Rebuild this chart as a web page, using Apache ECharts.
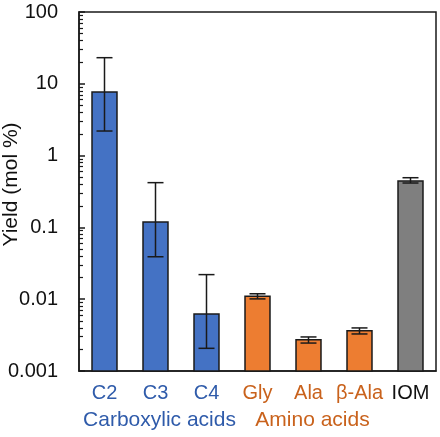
<!DOCTYPE html>
<html>
<head>
<meta charset="utf-8">
<script src="https://cdn.jsdelivr.net/npm/echarts@6/dist/echarts.min.js"></script>
<style>html,body{margin:0;padding:0;background:#fff;}#c{width:440px;height:437px;}</style>
</head>
<body>
<div id="c"></div>
<script>
const categories = ['C2', 'C3', 'C4', 'Gly', 'Ala', 'β-Ala', 'IOM'];
const groups = ['Carboxylic acids', 'Carboxylic acids', 'Carboxylic acids', 'Amino acids', 'Amino acids', 'Amino acids', 'IOM'];
const yields = [7.7, 0.119, 0.0062, 0.011, 0.00273, 0.00365, 0.443];
const errLow = [2.2, 0.039, 0.00207, 0.0101, 0.00245, 0.00328, 0.415];
const errHigh = [23.1, 0.42, 0.022, 0.0119, 0.00298, 0.00398, 0.492];
const yTicks = [0.001, 0.01, 0.1, 1, 10, 100];
const groupLabels = ['Carboxylic acids', 'Amino acids'];

const barColors = {'Carboxylic acids': '#4472C4', 'Amino acids': '#ED7D31', 'IOM': '#7F7F7F'};
const textColors = {'Carboxylic acids': '#2F5BAA', 'Amino acids': '#C9621C', 'IOM': '#111111'};
const FONT = '"Liberation Sans", Arial, sans-serif';

const minorTicks = [];
for (let k = 0; k < yTicks.length - 1; k++) {
  for (let m = 2; m <= 9; m++) minorTicks.push(m * yTicks[k]);
}
const yMin = yTicks[0], yMax = yTicks[yTicks.length - 1];

const chart = echarts.init(document.getElementById('c'), null, {renderer: 'canvas'});
const grid = {left: 79, right: 4, top: 12, bottom: 66, outerBoundsMode: 'none', containLabel: false,
  show: true, borderColor: '#1a1a1a', borderWidth: 1.5, backgroundColor: 'transparent'};

const option = {
  animation: false,
  backgroundColor: '#ffffff',
  textStyle: {fontFamily: FONT},
  grid: grid,
  xAxis: {
    type: 'category',
    data: categories,
    axisTick: {show: false},
    axisLine: {lineStyle: {color: '#1a1a1a', width: 1.5}},
    axisLabel: {
      fontSize: 20, fontFamily: FONT, margin: 12, interval: 0,
      color: function (v, i) { return textColors[groups[i]]; }
    }
  },
  yAxis: [{
    type: 'log', logBase: 10, min: yMin, max: yMax,
    name: 'Yield (mol %)', nameLocation: 'middle', nameGap: 57, nameMoveOverlap: false,
    nameTextStyle: {fontSize: 21, color: '#111', fontFamily: FONT, padding: [0, 0, 0, 14]},
    axisLine: {show: true, lineStyle: {color: '#1a1a1a', width: 1.5}},
    axisTick: {show: true, inside: true, length: 6, lineStyle: {color: '#1a1a1a', width: 1.5}},
    splitLine: {show: false},
    axisLabel: {
      fontSize: 20, color: '#111', fontFamily: FONT, margin: 21,
      formatter: function (v) { return String(parseFloat(Number(v).toPrecision(6))); }
    }
  }, {
    type: 'log', logBase: 10, min: yMin, max: yMax, position: 'left',
    axisLine: {show: false},
    axisLabel: {show: false},
    splitLine: {show: false},
    axisTick: {show: true, inside: true, length: 4, customValues: minorTicks, lineStyle: {color: '#1a1a1a', width: 1.2}}
  }],
  series: [{
    type: 'custom',
    data: categories.map(function (c, i) { return [i, yields[i]]; }),
    z: 2,
    renderItem: function (params, api) {
      const i = api.value(0);
      const top = api.coord([i, api.value(1)]);
      const base = api.coord([i, yMin]);
      const w = api.size([1, 0])[0] * 0.49;
      return {
        type: 'rect',
        shape: {x: top[0] - w / 2, y: top[1], width: w, height: base[1] - top[1]},
        style: {fill: barColors[groups[i]], stroke: '#1a1a1a', lineWidth: 1.5}
      };
    }
  }, {
    type: 'custom',
    data: categories.map(function (c, i) { return [i, errLow[i], errHigh[i]]; }),
    z: 5,
    renderItem: function (params, api) {
      const x = api.value(0);
      const lo = api.coord([x, api.value(1)]);
      const hi = api.coord([x, api.value(2)]);
      const hw = 8;
      const st = {stroke: '#1a1a1a', lineWidth: 1.5};
      return {
        type: 'group',
        children: [
          {type: 'line', shape: {x1: lo[0], y1: lo[1], x2: hi[0], y2: hi[1]}, style: st},
          {type: 'line', shape: {x1: hi[0] - hw, y1: hi[1], x2: hi[0] + hw, y2: hi[1]}, style: st},
          {type: 'line', shape: {x1: lo[0] - hw, y1: lo[1], x2: lo[0] + hw, y2: lo[1]}, style: st}
        ]
      };
    }
  }]
};
chart.setOption(option);

// group labels under categories
const graphics = groupLabels.map(function (g) {
  const idx = [];
  groups.forEach(function (gg, i) { if (gg === g) idx.push(i); });
  const xs = idx.map(function (i) { return chart.convertToPixel({xAxisIndex: 0}, categories[i]); });
  const cx = xs.reduce(function (a, b) { return a + b; }, 0) / xs.length + 4;
  const yBase = chart.convertToPixel({yAxisIndex: 0}, yMin);
  return {
    type: 'text', x: cx, y: yBase + 49,
    style: {text: g, fontSize: 21, fontFamily: FONT, fill: textColors[g], align: 'center', verticalAlign: 'middle'}
  };
});
chart.setOption({graphic: graphics});
</script>
</body>
</html>
